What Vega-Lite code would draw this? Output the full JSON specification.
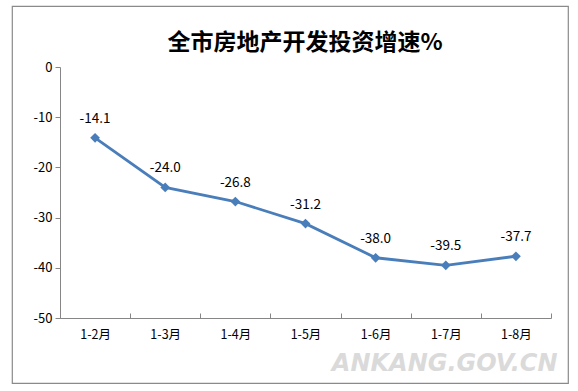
{
  "$schema": "https://vega.github.io/schema/vega-lite/v6.json",
  "width": 556,
  "height": 377,
  "autosize": {"type": "none"},
  "padding": {"left": 12, "top": 6, "right": 10, "bottom": 8},
  "background": "white",
  "config": {
    "locale": {"number": {"decimal": ".", "thousands": ",", "grouping": [3], "currency": ["$", ""], "minus": "-"}},
    "view": {"stroke": "#8a8a8a", "strokeWidth": 1.2},
    "font": "Noto Sans CJK SC"
  },
  "title": {
    "text": "全市房地产开发投资增速%",
    "anchor": "middle",
    "frame": "group",
    "orient": "top",
    "offset": -49,
    "dx": 15,
    "fontSize": 23,
    "fontWeight": "bold",
    "color": "#000000",
    "font": "Noto Sans CJK SC"
  },
  "data": {
    "values": [
      {"month": "1-2月", "value": -14.1},
      {"month": "1-3月", "value": -24.0},
      {"month": "1-4月", "value": -26.8},
      {"month": "1-5月", "value": -31.2},
      {"month": "1-6月", "value": -38.0},
      {"month": "1-7月", "value": -39.5},
      {"month": "1-8月", "value": -37.7}
    ]
  },
  "encoding": {
    "x": {
      "field": "month",
      "type": "nominal",
      "sort": null,
      "bandPosition": 0.5,
      "scale": {"type": "band", "range": [48, 539], "paddingInner": 0, "paddingOuter": 0},
      "axis": {
        "title": "ANKANG.GOV.CN",
        "titleX": 545,
        "titleY": 52,
        "titleAlign": "right",
        "titleAnchor": null,
        "titleBaseline": "alphabetic",
        "titleFont": "DejaVu Sans",
        "titleFontSize": 24,
        "titleFontStyle": "italic",
        "titleFontWeight": "bold",
        "titleColor": "#dadada",
        "offset": -65,
        "labelAngle": 0,
        "labelFontSize": 12.5,
        "labelColor": "#000000",
        "labelPadding": 15,
        "tickBand": "extent",
        "tickSize": -5,
        "domainColor": "#868686",
        "tickColor": "#868686",
        "grid": false
      }
    },
    "y": {
      "field": "value",
      "type": "quantitative",
      "scale": {"domain": [-50, 0], "range": [312, 61], "nice": false},
      "axis": {
        "title": null,
        "values": [0, -10, -20, -30, -40, -50],
        "format": "d",
        "offset": -48,
        "labelFontSize": 13,
        "labelColor": "#000000",
        "labelPadding": 3,
        "tickSize": 5,
        "domainColor": "#868686",
        "tickColor": "#868686",
        "grid": false
      }
    }
  },
  "layer": [
    {
      "mark": {"type": "line", "color": "#4a7ebb", "strokeWidth": 2.8},
      "encoding": {}
    },
    {
      "mark": {"type": "point", "shape": "diamond", "filled": true, "size": 95, "color": "#4a7ebb", "opacity": 1},
      "encoding": {}
    },
    {
      "mark": {"type": "text", "dy": -19, "fontSize": 13.5, "color": "#000000", "baseline": "middle", "align": "center"},
      "encoding": {"text": {"field": "value", "type": "quantitative", "format": ".1f"}}
    }
  ]
}
